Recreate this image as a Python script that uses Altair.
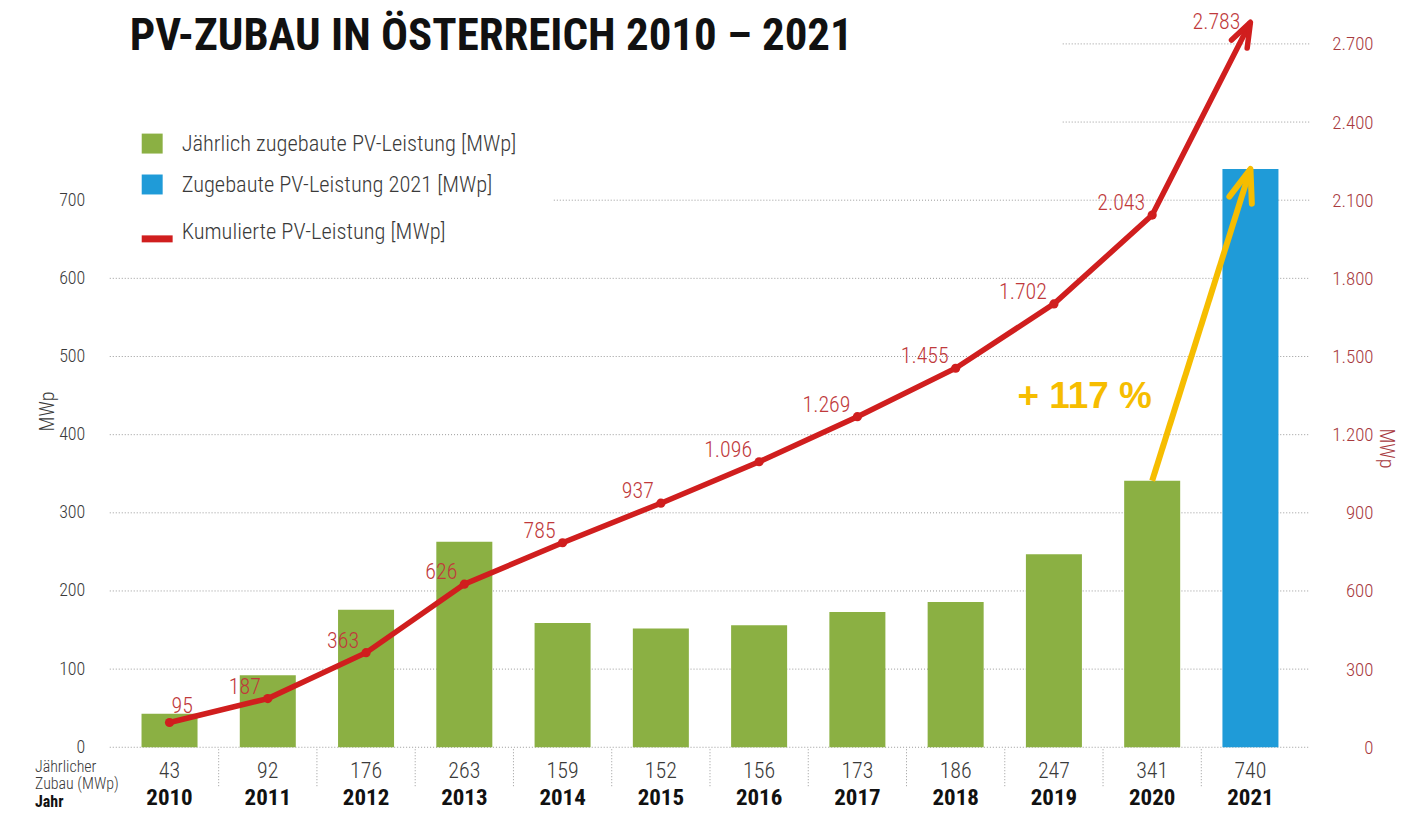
import math
import altair as alt
import pandas as pd

# ---------------- data ----------------
years = [2010, 2011, 2012, 2013, 2014, 2015, 2016, 2017, 2018, 2019, 2020, 2021]
zubau = [43, 92, 176, 263, 159, 152, 156, 173, 186, 247, 341, 740]
kumuliert = [95, 187, 363, 626, 785, 937, 1096, 1269, 1455, 1702, 2043, 2783]
bar_group = ["Jährlich"] * 11 + ["2021"]
left_ticks = [0, 100, 200, 300, 400, 500, 600, 700]
right_ticks = [0, 300, 600, 900, 1200, 1500, 1800, 2100, 2400, 2700]
legend_labels = [
    "Jährlich zugebaute PV-Leistung [MWp]",
    "Zugebaute PV-Leistung 2021 [MWp]",
    "Kumulierte PV-Leistung [MWp]",
]
row_labels = ["Jährlicher", "Zubau (MWp)", "Jahr"]
title_text = "PV-ZUBAU IN ÖSTERREICH 2010 – 2021"
growth_text = "+ 117 %"
axis_title = "MWp"

# ---------------- style ----------------
W, H = 1203, 731
R_MAX = 2800
L_MAX = R_MAX / 3
P_OUT = 0.108

GREEN = "#8bb043"
BLUE = "#1f9bd8"
RED = "#d01e1e"
RED_TXT = "#c0393b"
RED_AX = "#a83a3e"
YELLOW = "#f6bd00"
GRAY_TXT = "#3a3a3a"
GRID = "#9a9a9a"

COND = "Roboto Condensed, Liberation Sans, sans-serif"
SANS = "Liberation Sans, Arial, sans-serif"
LIGHT = 300

CHEVRON = "M-0.36,1L0,0L0.36,1"

step = W / (len(years) + 2 * P_OUT)
ang_red = math.degrees(math.atan2(step, (kumuliert[-1] - kumuliert[-2]) * H / R_MAX))
ang_yel = math.degrees(math.atan2(step, (zubau[-1] - zubau[-2]) * H / L_MAX))

df = pd.DataFrame({"year": years, "zubau": zubau, "kum": kumuliert, "group": bar_group})
grid_df = pd.DataFrame({"v": right_ticks})

x_scale = alt.Scale(paddingInner=0, paddingOuter=P_OUT)
yL = alt.Scale(domain=[0, L_MAX], nice=False, zero=True)
yR = alt.Scale(domain=[0, R_MAX], nice=False, zero=True)
X = alt.X("year:O", scale=x_scale, axis=None)
YR = alt.Y("kum:Q", scale=yR, axis=None)

base = alt.Chart(df)
gbase = alt.Chart(grid_df)

grid_kw = dict(color=GRID, strokeDash=[1, 2], strokeWidth=1)
grid_full = gbase.transform_filter("datum.v <= 1800").mark_rule(**grid_kw).encode(
    y=alt.Y("v:Q", scale=yR, axis=None), x=alt.value(0), x2=alt.value(W))
grid_mid = gbase.transform_filter("datum.v == 2100").mark_rule(**grid_kw).encode(
    y=alt.Y("v:Q", scale=yR, axis=None), x=alt.value(445), x2=alt.value(W))
grid_top = gbase.transform_filter("datum.v >= 2400").mark_rule(**grid_kw).encode(
    y=alt.Y("v:Q", scale=yR, axis=None), x=alt.value(955), x2=alt.value(W))

left_axis = alt.Axis(
    values=left_ticks, orient="left", title=axis_title, grid=False, domain=False,
    ticks=False, labelPadding=25, labelFont=COND, labelFontSize=18, labelFontWeight=LIGHT,
    labelColor=GRAY_TXT, titleFont=COND, titleFontSize=20, titleFontWeight=LIGHT,
    titleColor=GRAY_TXT, titleX=-62, titleY=394, titleBaseline="middle",
    titleAlign="center")

right_axis = alt.Axis(
    values=right_ticks, orient="right", title=axis_title, grid=False, domain=False,
    ticks=False, labelAlign="right", labelPadding=63, labelFont=COND,
    labelFontSize=19, labelFontWeight=LIGHT, labelColor=RED_AX,
    labelExpr="replace(format(datum.value, ','), ',', '.')",
    titleFont=COND, titleFontSize=20, titleFontWeight=LIGHT, titleColor=RED_AX,
    titleX=75, titleY=431, titleBaseline="middle", titleAlign="center")

bars = base.mark_bar(width={"band": 0.57}).encode(
    x=X,
    y=alt.Y("zubau:Q", scale=yL, axis=left_axis),
    color=alt.Color("group:N", scale=alt.Scale(domain=["Jährlich", "2021"], range=[GREEN, BLUE]), legend=None),
)

separators = base.transform_filter("datum.year > 2010").mark_rule(
    color=GRID, strokeDash=[1, 2], strokeWidth=1).encode(
    x=alt.X("year:O", bandPosition=0, scale=x_scale, axis=None),
    y=alt.value(H + 2), y2=alt.value(H + 40))

line = base.mark_line(color=RED, strokeWidth=5.5).encode(
    x=X, y=alt.Y("kum:Q", scale=yR, axis=right_axis))

points = base.transform_filter("datum.year < 2021").mark_circle(
    size=85, color=RED, opacity=1).encode(x=X, y=YR)

red_head = base.transform_filter("datum.year == 2021").mark_point(
    shape=CHEVRON, filled=False, strokeWidth=5.5, size=2400, angle=ang_red,
    color=RED, opacity=1, strokeJoin="round", strokeCap="round").encode(x=X, y=YR)

lbl_expr = "replace(format(datum.kum, ','), ',', '.')"
lbl_kw = dict(font=COND, fontSize=22, fontWeight=LIGHT, color=RED_TXT, baseline="middle")
labels_first = base.transform_filter("datum.year == 2010").transform_calculate(
    lbl=lbl_expr).mark_text(align="left", dx=2, dy=-17, **lbl_kw).encode(x=X, y=YR, text="lbl:N")
labels_mid = base.transform_filter("datum.year > 2010 && datum.year < 2021").transform_calculate(
    lbl=lbl_expr).mark_text(align="right", dx=-7, dy=-12, **lbl_kw).encode(x=X, y=YR, text="lbl:N")
labels_last = base.transform_filter("datum.year == 2021").transform_calculate(
    lbl=lbl_expr).mark_text(align="right", dx=-10, dy=0, **lbl_kw).encode(x=X, y=YR, text="lbl:N")

YL = alt.Y("zubau:Q", scale=yL, axis=None)
yellow_line = base.transform_filter("datum.year >= 2020").mark_line(
    color=YELLOW, strokeWidth=6).encode(x=X, y=YL)
yellow_head = base.transform_filter("datum.year == 2021").mark_point(
    shape=CHEVRON, filled=False, strokeWidth=6, size=4300, angle=ang_yel,
    color=YELLOW, opacity=1, strokeJoin="round", strokeCap="round").encode(x=X, y=YL)

growth = alt.Chart(pd.DataFrame({"t": [growth_text]})).mark_text(
    font=SANS, fontSize=37, fontWeight="bold", color=YELLOW, align="center",
    baseline="middle").encode(text="t:N", x=alt.value(977), y=alt.value(380))

value_row = base.mark_text(font=COND, fontSize=22, fontWeight=LIGHT, color=GRAY_TXT,
                           baseline="middle").encode(x=X, y=alt.value(755), text="zubau:Q")
year_row = base.mark_text(font=COND, fontSize=23, fontWeight="bold", color="#111111",
                          baseline="middle").encode(x=X, y=alt.value(782), text="year:O")


def one_text(t, x, y, **kw):
    return alt.Chart(pd.DataFrame({"t": [t]})).mark_text(**kw).encode(
        text="t:N", x=alt.value(x), y=alt.value(y))


row_kw = dict(font=COND, fontSize=16, fontWeight=LIGHT, color=GRAY_TXT, align="left",
              baseline="middle")
row1 = one_text(row_labels[0], -75, 751, **row_kw)
row2 = one_text(row_labels[1], -75, 768, **row_kw)
row3 = one_text(row_labels[2], -75, 786, font=COND, fontSize=16, fontWeight="bold",
                color="#111111", align="left", baseline="middle")

title = one_text(title_text, 20, 32, font=COND, fontSize=45, fontWeight="bold",
                 color="#111111", align="left", baseline="alphabetic")

one = pd.DataFrame({"k": [0]})
leg_sq1 = alt.Chart(one).mark_rect(color=GREEN).encode(
    x=alt.value(32), x2=alt.value(53), y=alt.value(116), y2=alt.value(136))
leg_sq2 = alt.Chart(one).mark_rect(color=BLUE).encode(
    x=alt.value(32), x2=alt.value(53), y=alt.value(157), y2=alt.value(177))
leg_ln = alt.Chart(one).mark_rule(color=RED, strokeWidth=7).encode(
    x=alt.value(32), x2=alt.value(63), y=alt.value(221.5))
leg_kw = dict(font=COND, fontSize=22.5, fontWeight=LIGHT, color=GRAY_TXT, align="left",
              baseline="middle")
leg_t1 = one_text(legend_labels[0], 72, 126, **leg_kw)
leg_t2 = one_text(legend_labels[1], 72, 168, **leg_kw)
leg_t3 = one_text(legend_labels[2], 72, 215, **leg_kw)

chart = alt.layer(
    grid_full, grid_mid, grid_top, bars, line, separators, points, red_head,
    yellow_line, yellow_head, labels_first, labels_mid, labels_last, growth,
    value_row, year_row, row1, row2, row3, title,
    leg_sq1, leg_sq2, leg_ln, leg_t1, leg_t2, leg_t3,
).resolve_scale(y="independent").properties(
    width=W, height=H,
    autosize=alt.AutoSizeParams(type="none"),
    padding={"left": 102, "top": 9, "right": 88, "bottom": 63},
    background="white",
).configure_view(stroke=None)

chart.save("out.html", embed_options={"renderer": "svg", "actions": False})
